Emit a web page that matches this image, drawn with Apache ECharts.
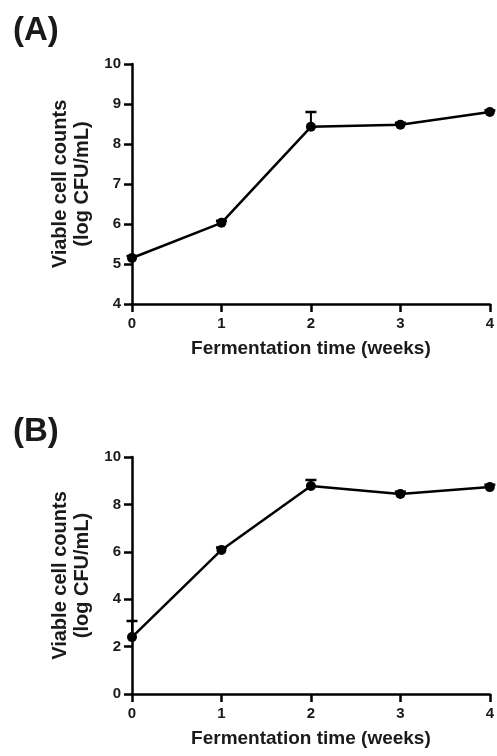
<!DOCTYPE html>
<html>
<head>
<meta charset="utf-8">
<script src="https://cdn.jsdelivr.net/npm/echarts@6/dist/echarts.min.js"></script>
<style>
html,body{margin:0;padding:0;background:#fff;}
#c{width:497px;height:756px;}
</style>
</head>
<body>
<div id="c"></div>
<script>
var weeks = [0, 1, 2, 3, 4];
var countsA = [5.15, 6.03, 8.43, 8.48, 8.8];
var errA = [0.05, 0.05, 0.37, 0.05, 0.04];
var countsB = [2.4, 6.08, 8.78, 8.44, 8.73];
var errB = [0.68, 0.1, 0.25, 0.1, 0.1];
var xTitle = 'Fermentation time (weeks)';
var yTitle = 'Viable cell counts\n(log CFU/mL)';
var panelLabels = ['(A)', '(B)'];

var FONT = '"Liberation Sans", Arial, sans-serif';
var chart = echarts.init(document.getElementById('c'), null, {renderer: 'canvas'});

function pts(ys) { return weeks.map(function (w, i) { return [w, ys[i]]; }); }
function errPts(ys, es) { return weeks.map(function (w, i) { return [w, ys[i], ys[i] + es[i]]; }); }

function xAxis(gi) {
  return {
    type: 'value', gridIndex: gi, min: 0, max: 4, interval: 1,
    name: xTitle, nameLocation: 'middle', nameGap: 35,
    nameTextStyle: {fontFamily: FONT, fontWeight: 'bold', fontSize: 19, color: '#1a1a1a'},
    axisLine: {show: true, lineStyle: {color: '#000', width: 2.5}},
    axisTick: {show: true, inside: false, length: 8, lineStyle: {color: '#000', width: 2.5}},
    axisLabel: {fontFamily: FONT, fontWeight: 'bold', fontSize: 15, color: '#1a1a1a', margin: 12},
    splitLine: {show: false}
  };
}
function yAxis(gi, min, max, interval) {
  return {
    type: 'value', gridIndex: gi, min: min, max: max, interval: interval,
    name: yTitle, nameLocation: 'middle', nameGap: 33, nameRotate: 90,
    nameTextStyle: {fontFamily: FONT, fontWeight: 'bold', fontSize: 20, color: '#1a1a1a', lineHeight: 22, align: 'center'},
    axisLine: {show: true, lineStyle: {color: '#000', width: 2.5}},
    axisTick: {show: true, inside: false, length: 8, lineStyle: {color: '#000', width: 2.5}},
    axisLabel: {fontFamily: FONT, fontWeight: 'bold', fontSize: 15, color: '#1a1a1a', margin: 11},
    splitLine: {show: false}
  };
}
function errSeries(xi, yi, data) {
  return {
    type: 'custom', xAxisIndex: xi, yAxisIndex: yi, data: data, z: 1,
    renderItem: function (params, api) {
      var p0 = api.coord([api.value(0), api.value(1)]);
      var p1 = api.coord([api.value(0), api.value(2)]);
      var hw = 5.5;
      return {
        type: 'group',
        children: [
          {type: 'line', shape: {x1: p0[0], y1: p0[1], x2: p1[0], y2: p1[1]}, style: {stroke: '#000', lineWidth: 2}},
          {type: 'line', shape: {x1: p1[0] - hw, y1: p1[1], x2: p1[0] + hw, y2: p1[1]}, style: {stroke: '#000', lineWidth: 2.5}}
        ]
      };
    }
  };
}
function lineSeries(xi, yi, data) {
  return {
    type: 'line', xAxisIndex: xi, yAxisIndex: yi, data: data, z: 3,
    symbol: 'circle', symbolSize: 10,
    lineStyle: {color: '#000', width: 2.5},
    itemStyle: {color: '#000'},
    animation: false
  };
}

chart.setOption({
  animation: false,
  backgroundColor: '#fff',
  title: [
    {text: panelLabels[0], left: 8, top: 9, textStyle: {fontFamily: FONT, fontWeight: 'bold', fontSize: 33, color: '#1a1a1a'}},
    {text: panelLabels[1], left: 8, top: 410, textStyle: {fontFamily: FONT, fontWeight: 'bold', fontSize: 33, color: '#1a1a1a'}}
  ],
  grid: [
    {left: 132, top: 64, width: 360, height: 240},
    {left: 132, top: 457, width: 360, height: 237}
  ],
  xAxis: [xAxis(0), xAxis(1)],
  yAxis: [yAxis(0, 4, 10, 1), yAxis(1, 0, 10, 2)],
  series: [
    errSeries(0, 0, errPts(countsA, errA)),
    lineSeries(0, 0, pts(countsA)),
    errSeries(1, 1, errPts(countsB, errB)),
    lineSeries(1, 1, pts(countsB))
  ]
});
</script>
</body>
</html>
